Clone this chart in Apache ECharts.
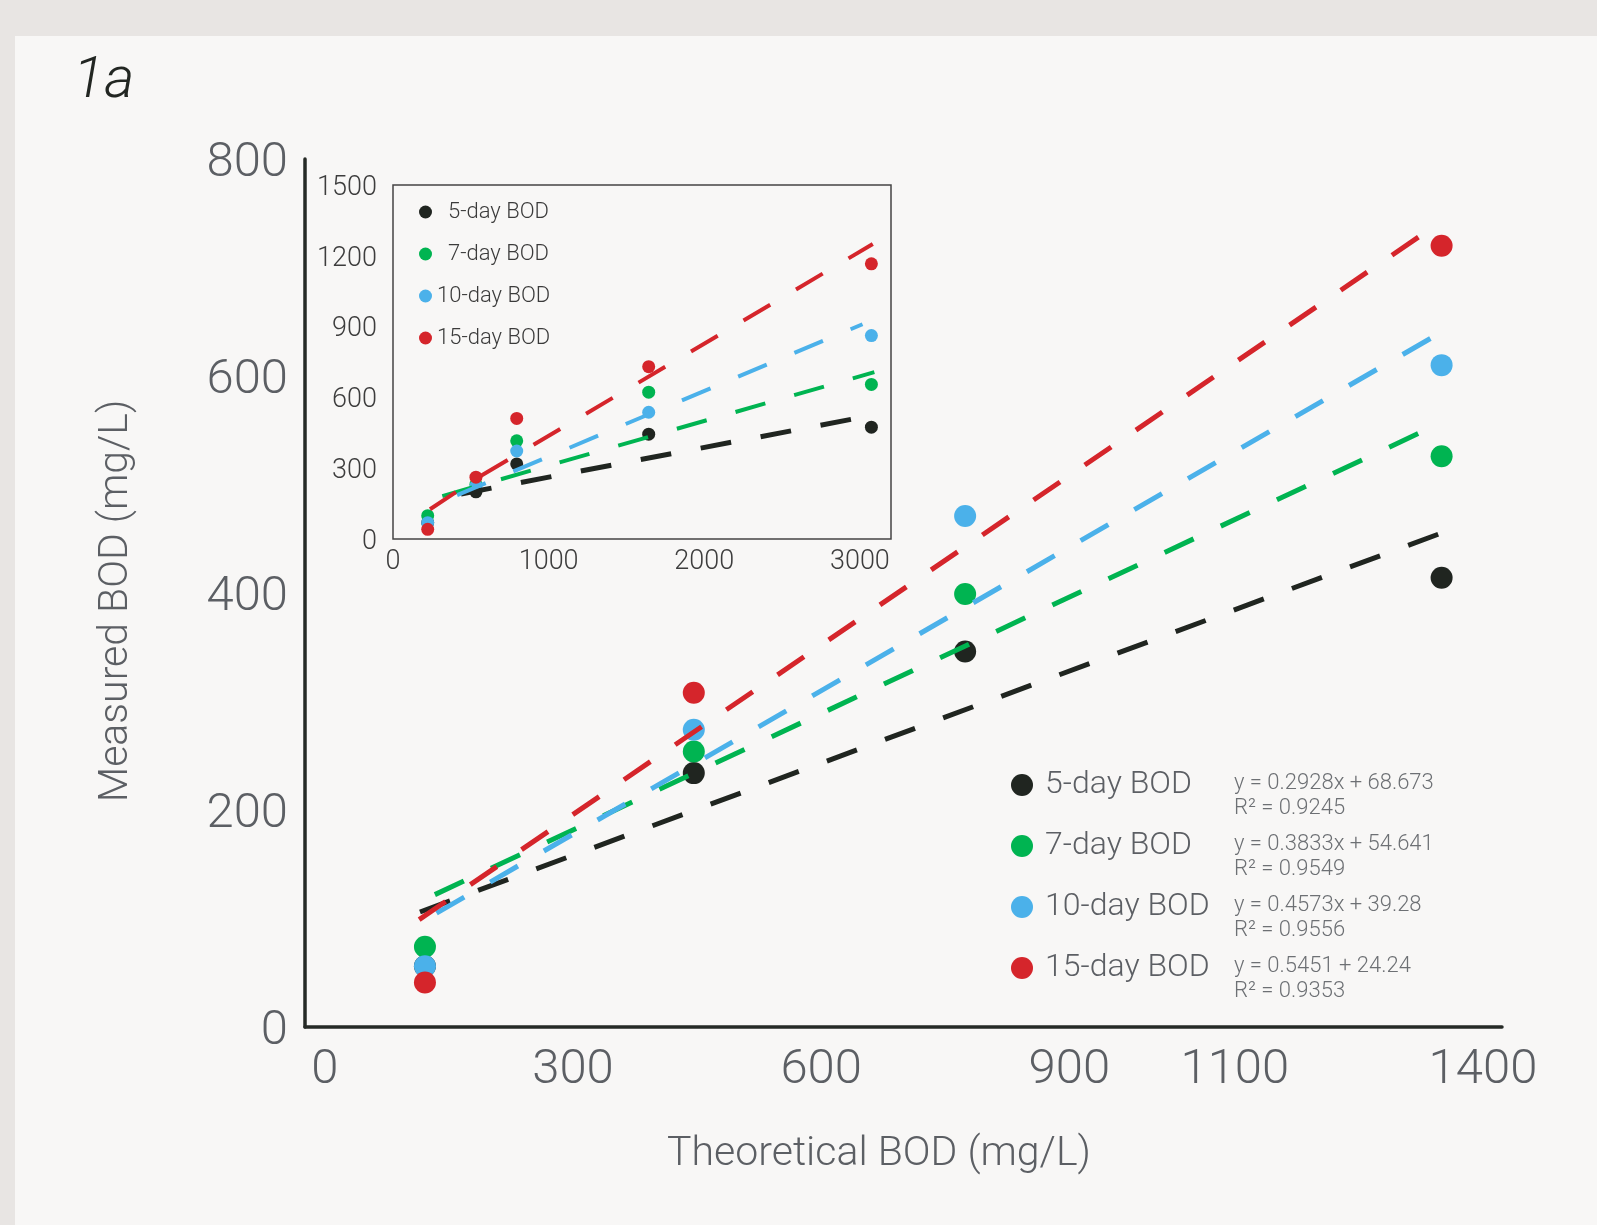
<!DOCTYPE html>
<html>
<head>
<meta charset="utf-8">
<title>Measured vs theoretical BOD</title>
<script src="https://cdn.jsdelivr.net/npm/echarts@6/dist/echarts.min.js"></script>
<style>
  html, body { margin: 0; padding: 0; background: #e8e5e3; }
  #panel { position: absolute; left: 15px; top: 36px; right: 0; bottom: 0; background: #f8f7f6; }
  #chart { position: absolute; left: 0; top: 0; width: 1597px; height: 1225px; }
</style>
</head>
<body>
<div id="panel"></div>
<div id="chart"></div>
<script>
const seriesNames = ['5-day BOD', '7-day BOD', '10-day BOD', '15-day BOD']
const colors = ['#202520', '#00b451', '#4bb1ea', '#d5252b']

// main chart
const mainX = [121, 446, 774, 1350]
const main5 = [56, 234, 346, 414]
const main7 = [74, 254, 399, 526]
const main10 = [56, 274, 471, 610]
const main15 = [41, 308, null, 720]
const mainXTicks = [0, 300, 600, 900, 1100, 1400]
const mainYTicks = [0, 200, 400, 600, 800]

// dashed trend lines, start and end points as drawn
const mainTrend5 = [[115, 106], [1363, 459]]
const mainTrend7 = [[133, 122], [1347, 556]]
const mainTrend10 = [[135, 105], [1351, 641]]
const mainTrend15 = [[114, 99], [1347, 741]]

const equations = ['y = 0.2928x + 68.673', 'y = 0.3833x + 54.641', 'y = 0.4573x + 39.28', 'y = 0.5451 + 24.24']
const rSquared = ['R² = 0.9245', 'R² = 0.9549', 'R² = 0.9556', 'R² = 0.9353']

// inset chart
const insetX = [223, 533, 795, 1643, 3074]
const inset5 = [69, 200, 318, 444, 474]
const inset7 = [99, 232, 416, 622, 655]
const inset10 = [69, 225, 373, 537, 862]
const inset15 = [41, 262, 511, 730, 1166]
const insetXTicks = [0, 1000, 2000, 3000]

const insetTrend5 = [[437, 191], [3016, 516]]
const insetTrend7 = [[317, 182], [3093, 707]]
const insetTrend10 = [[412, 186], [3017, 910]]
const insetTrend15 = [[238, 126], [538, 257], [3083, 1250]]

const mainVals = [main5, main7, main10, main15]
const mainTrends = [mainTrend5, mainTrend7, mainTrend10, mainTrend15]
const insetVals = [inset5, inset7, inset10, inset15]
const insetTrends = [insetTrend5, insetTrend7, insetTrend10, insetTrend15]

const FONT = 'Roboto'
const labelGrey = '#5c5f64'
const dark = '#262a26'
const plain = v => String(v)   // no thousands separator

function pairs(xs, ys) {
  const out = []
  xs.forEach((x, i) => { if (ys[i] != null) out.push([x, ys[i]]) })
  return out
}

const series = []
seriesNames.forEach((name, i) => {
  series.push({
    name: name, type: 'scatter', xAxisIndex: 0, yAxisIndex: 0,
    data: pairs(mainX, mainVals[i]), symbolSize: 22, z: 2,
    itemStyle: { color: colors[i], opacity: 1 }, silent: true
  })
})
seriesNames.forEach((name, i) => {
  series.push({
    name: name, type: 'scatter', xAxisIndex: 1, yAxisIndex: 1,
    data: pairs(insetX, insetVals[i]), symbolSize: 13, z: 2,
    itemStyle: { color: colors[i], opacity: 1 }, silent: true
  })
})
seriesNames.forEach((name, i) => {
  series.push({
    name: name + ' trend', type: 'line', xAxisIndex: 0, yAxisIndex: 0,
    data: mainTrends[i], showSymbol: false, z: 3, silent: true,
    lineStyle: { color: colors[i], width: 5, type: [32, 30], cap: 'butt' }
  })
  series.push({
    name: name + ' inset trend', type: 'line', xAxisIndex: 1, yAxisIndex: 1,
    data: insetTrends[i], showSymbol: false, z: 3, silent: true,
    lineStyle: { color: colors[i], width: i === 0 ? 5 : 4, type: [31, 30], cap: 'butt' }
  })
})

// equation blocks sit beside the legend rows
const legendTop = 767
const legendRow = 61
const graphics = [{
  type: 'text', left: 73, top: 53,
  style: { text: '1a', fontSize: 58, fontStyle: 'italic', fontWeight: 300, fontFamily: FONT, fill: '#222622' }
}]
equations.forEach((eq, i) => {
  graphics.push({
    type: 'text', x: 1234, y: legendTop + 18 + i * legendRow + 11,
    style: {
      text: eq + '\n' + rSquared[i], fontSize: 22, fontWeight: 300, fontFamily: FONT,
      fill: '#6d7074', lineHeight: 24.5, verticalAlign: 'middle'
    }
  })
})

const chart = echarts.init(document.getElementById('chart'), null, { renderer: 'canvas' })
chart.setOption({
  animation: false,
  backgroundColor: 'transparent',
  grid: [
    { left: 305, top: 159, width: 1197, height: 868, outerBoundsMode: 'none' },
    { left: 393, top: 185, width: 498, height: 354, show: true, borderColor: '#444', borderWidth: 1.5,
      backgroundColor: 'transparent', outerBoundsMode: 'none' }
  ],
  xAxis: [
    {
      type: 'value', gridIndex: 0, min: -24, max: 1423,
      axisLine: { onZero: false, lineStyle: { color: dark, width: 3.5 } },
      axisTick: { show: false }, splitLine: { show: false },
      axisLabel: { customValues: mainXTicks, formatter: plain, fontSize: 49, fontWeight: 300, fontFamily: FONT,
        color: labelGrey, margin: 19 },
      name: 'Theoretical BOD (mg/L)', nameLocation: 'middle', nameGap: 107,
      nameTextStyle: { fontSize: 41, fontWeight: 300, fontFamily: FONT, color: labelGrey, padding: [0, 49, 0, 0] }
    },
    {
      type: 'value', gridIndex: 1, min: 0, max: 3200,
      axisLine: { show: false }, axisTick: { show: false }, splitLine: { show: false },
      axisLabel: { customValues: insetXTicks, formatter: plain, fontSize: 27, fontWeight: 300, fontFamily: FONT,
        color: '#3d3d3d', margin: 10 }
    }
  ],
  yAxis: [
    {
      type: 'value', gridIndex: 0, min: 0, max: 800,
      axisLine: { show: true, onZero: false, lineStyle: { color: dark, width: 3.5 } },
      axisTick: { show: false }, splitLine: { show: false },
      axisLabel: { customValues: mainYTicks, formatter: plain, fontSize: 49, fontWeight: 300, fontFamily: FONT,
        color: labelGrey, margin: 17, verticalAlign: 'top', lineHeight: 10 },
      name: 'Measured BOD (mg/L)', nameLocation: 'middle', nameGap: 168,
      nameTextStyle: { fontSize: 41, fontWeight: 300, fontFamily: FONT, color: labelGrey, padding: [0, 16, 0, 0] }
    },
    {
      type: 'value', gridIndex: 1, min: 0, max: 1500, interval: 300,
      axisLine: { show: false }, axisTick: { show: false }, splitLine: { show: false },
      axisLabel: { formatter: plain, fontSize: 27, fontWeight: 300, fontFamily: FONT, color: '#3d3d3d',
        margin: 16, verticalAlign: 'top', lineHeight: 6 }
    }
  ],
  legend: [
    {
      data: seriesNames, orient: 'vertical', left: 1011, top: legendTop, padding: 0,
      icon: 'circle', itemWidth: 22, itemHeight: 22, itemGap: legendRow - 36, selectedMode: false,
      textStyle: { fontSize: 32, fontWeight: 300, fontFamily: FONT, color: labelGrey, lineHeight: 36, padding: [0, 0, 0, 7] }
    },
    {
      data: seriesNames, orient: 'vertical', left: 419, top: 200, padding: 0,
      icon: 'circle', itemWidth: 13, itemHeight: 13, itemGap: 18, selectedMode: false,
      formatter: name => name.length < 10 ? '{pad| }' + name : name,
      textStyle: { fontSize: 22, fontWeight: 300, fontFamily: FONT, color: '#3b3b3b', lineHeight: 24,
        rich: { pad: { width: 11 } } }
    }
  ],
  graphic: graphics,
  series: series
})
</script>
</body>
</html>
